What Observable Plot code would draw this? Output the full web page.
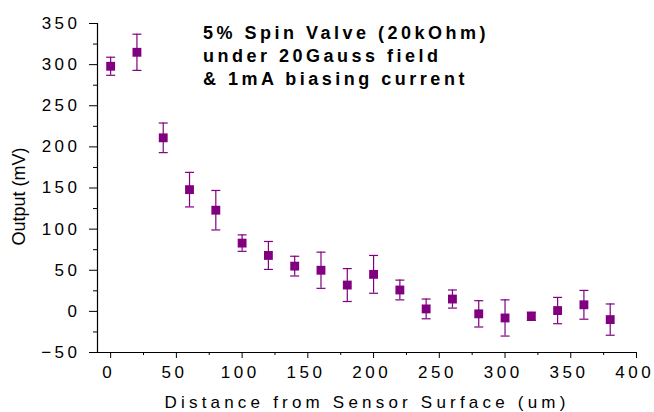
<!DOCTYPE html>
<html>
<head>
<meta charset="utf-8">
<script src="https://cdn.jsdelivr.net/npm/d3@7"></script>
<script src="https://cdn.jsdelivr.net/npm/@observablehq/plot@0.6"></script>
<style>
  body { margin: 0; background: white; }
  g[aria-label="y-axis tick label"] text, g[aria-label="x-axis tick label"] text { letter-spacing: 3.5px; }
  g.title-text text { letter-spacing: 3.5px; }
  g.xlabel-text text { letter-spacing: 4.2px; }
</style>
</head>
<body>
<div id="chart"></div>
<script>
const distance = [0, 20, 40, 60, 80, 100, 120, 140, 160, 180, 200, 220, 240, 260, 280, 300, 320, 340, 360, 380];
const output   = [298, 315, 211, 148, 123, 83, 68, 55, 50, 32, 45, 26, 3, 15, -3, -8, -6, 1, 8, -10];
const errorBar = [11, 22, 18, 21, 24, 10, 17, 12, 22, 20, 23, 12, 12, 11, 16, 22, 5, 16, 17.5, 19];
const xMajorTicks = [0, 50, 100, 150, 200, 250, 300, 350, 400];
const xMinorTicks = [25, 75, 125, 175, 225, 275, 325, 375];
const yMajorTicks = [-50, 0, 50, 100, 150, 200, 250, 300, 350];
const yMinorTicks = [-25, 25, 75, 125, 175, 225, 275, 325];
const titleLines = ["5% Spin Valve (20kOhm)", "under 20Gauss field", "& 1mA biasing current"];
const xLabel = "Distance from Sensor Surface (um)";
const yLabel = "Output (mV)";

const data = distance.map((d, i) => ({d, v: output[i], e: errorBar[i]}));
const purple = "#800080";
const capSymbol = {draw(ctx) { ctx.moveTo(-4.5, 0); ctx.lineTo(4.5, 0); }};

const plot = Plot.plot({
  width: 654,
  height: 412,
  marginLeft: 97,
  marginRight: 18,
  marginTop: 23,
  marginBottom: 60,
  style: {fontFamily: "'Liberation Sans', Arial, sans-serif", fontSize: "17px", color: "black", background: "white"},
  x: {domain: [-10, 400], axis: null},
  y: {domain: [-50, 350], axis: null},
  marks: [
    Plot.axisX({ticks: xMajorTicks, tickSize: 0, tickPadding: 13, fontSize: 17, label: null, dx: -1.8}),
    Plot.axisX({ticks: xMajorTicks, tickSize: 6, tickFormat: () => "", label: null}),
    Plot.axisX({ticks: xMinorTicks, tickSize: 3, tickFormat: () => "", label: null}),
    Plot.axisY({ticks: yMajorTicks, tickSize: 8, tickPadding: 9, fontSize: 17, label: null}),
    Plot.axisY({ticks: yMinorTicks, tickSize: 4, tickFormat: () => "", label: null}),
    Plot.ruleX([-10], {y1: -50, y2: 350, stroke: "black", strokeWidth: 1.2}),
    Plot.ruleY([-50], {x1: -10, x2: 400, stroke: "black", strokeWidth: 1.2}),
    Plot.ruleX(data, {x: "d", y1: d => d.v - d.e, y2: d => d.v + d.e, stroke: purple, strokeWidth: 1.2}),
    Plot.dot(data, {x: "d", y: d => d.v + d.e, symbol: capSymbol, fill: "none", stroke: purple, strokeWidth: 1.2}),
    Plot.dot(data, {x: "d", y: d => d.v - d.e, symbol: capSymbol, fill: "none", stroke: purple, strokeWidth: 1.2}),
    Plot.dot(data, {x: "d", y: "v", symbol: "square", r: 5, fill: purple, stroke: "none"}),
    Plot.text([titleLines.join("\n")], {text: d => d, frameAnchor: "top-left", dx: 105.5, dy: -1.5, lineAnchor: "top", textAnchor: "start", fontSize: 18, fontWeight: "bold", lineHeight: 1.295, fill: "black", ariaDescription: "title"}),
    Plot.text([xLabel], {text: d => d, frameAnchor: "bottom", dy: 50.5, lineAnchor: "middle", textAnchor: "middle", fontSize: 17, fill: "black", ariaDescription: "xlabel"}),
    Plot.text([yLabel], {text: d => d, frameAnchor: "left", dx: -78.5, dy: 8.5, rotate: -90, lineAnchor: "middle", textAnchor: "middle", fontSize: 18, fill: "black", ariaDescription: "ylabel"})
  ]
});

d3.select(plot).selectAll('g[aria-description="title"]').classed("title-text", true);
d3.select(plot).selectAll('g[aria-description="xlabel"]').classed("xlabel-text", true);
document.getElementById("chart").appendChild(plot);
</script>
</body>
</html>
